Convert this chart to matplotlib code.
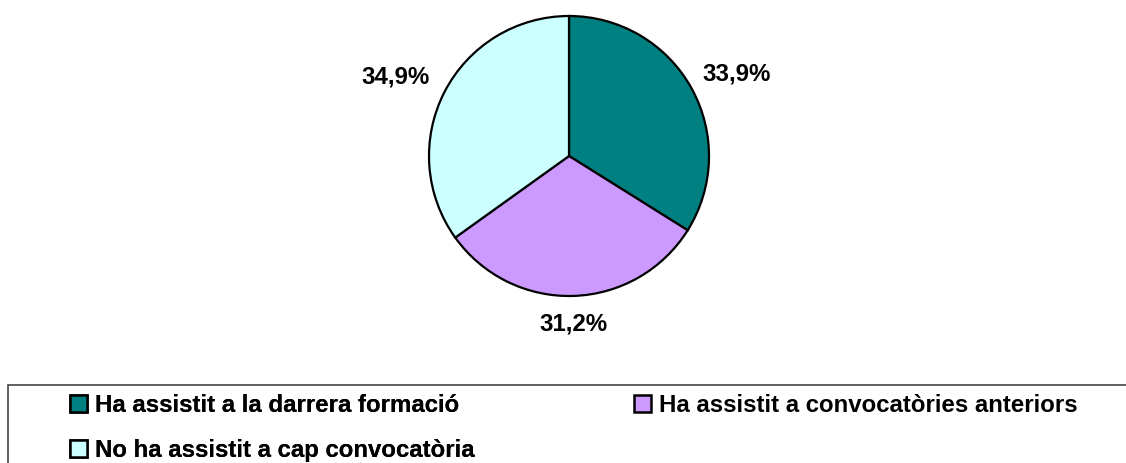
import matplotlib
matplotlib.use('Agg')
import matplotlib.pyplot as plt
from matplotlib.patches import Patch, Rectangle

# dades del gràfic
categories = ['Ha assistit a la darrera formació',
              'Ha assistit a convocatòries anteriors',
              'No ha assistit a cap convocatòria']
valors = [33.9, 31.2, 34.9]
colors = ['#008080', '#CC99FF', '#CCFFFF']

plt.rcParams['font.family'] = ['Liberation Sans', 'DejaVu Sans']
plt.rcParams['font.weight'] = 'bold'

W, H = 1126, 463
fig = plt.figure(figsize=(W / 100, H / 100), dpi=100)

# eix del pastís: centre (569, 156) px, radi 140 px -> límits +-1.25
cx, cy, r = 569, 156, 140
side = 2.5 * r
ax = fig.add_axes([(cx - side / 2) / W, (H - cy - side / 2) / H, side / W, side / H])

wedges, texts, autotexts = ax.pie(
    valors, colors=colors, startangle=90, counterclock=False,
    autopct=lambda p: f'{p:.1f}%'.replace('.', ','), pctdistance=1.12,
    wedgeprops=dict(edgecolor='black', linewidth=1.6),
    textprops=dict(fontsize=17.3, fontweight='bold', color='black'))
ax.set_aspect('equal')

# etiquetes fora del pastís, alineades segons el costat
for t in autotexts:
    x, y = t.get_position()
    if x > 0.3:
        t.set_ha('left')
        t.set_position((x - 0.03, y + 0.045))
    elif x < -0.3:
        t.set_ha('right')
        t.set_position((x, y + 0.05))
    else:
        t.set_va('top')
    t.set_clip_on(False)

# marc de la llegenda
fig.patches.append(Rectangle((8 / W, -0.5), 1.5, 0.5 + (H - 385) / H,
                             transform=fig.transFigure, fill=False,
                             edgecolor='#444444', linewidth=1.2))

handles = [Patch(facecolor=c, edgecolor='black', linewidth=1.8) for c in colors]
leg_kw = dict(frameon=False, handlelength=0.7, handleheight=0.7,
              handletextpad=0.35, labelspacing=0.92, borderpad=0, borderaxespad=0,
              loc='upper left', prop=dict(weight='bold', size=17.3))

leg1 = fig.legend([handles[0], handles[2]], [categories[0], categories[2]],
                  bbox_to_anchor=(70 / W, 1 - 394 / H), **leg_kw)
fig.add_artist(leg1)
fig.legend([handles[1]], [categories[1]],
           bbox_to_anchor=(634 / W, 1 - 394 / H), **leg_kw)

fig.savefig('out.png', dpi=100)
